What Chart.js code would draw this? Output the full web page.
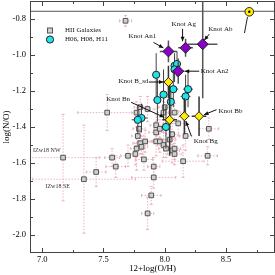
<!DOCTYPE html>
<html>
<head>
<meta charset="utf-8">
<script src="https://cdn.jsdelivr.net/npm/chart.js@4"></script>
<style>
  html, body { margin: 0; padding: 0; background: #fff; }
</style>
</head>
<body>
<canvas id="noChart" width="275" height="275"></canvas>
<script>
const SERIF = '"Liberation Serif", "Times New Roman", serif';

// HII galaxies: 12+log(O/H), log(N/O) and errors
const hiiOH    = [7.68, 7.53, 7.17, 7.34, 7.44, 7.57, 7.60, 7.70, 7.77, 7.78, 7.77, 7.79, 7.80, 7.84, 7.83,
                  7.91, 7.91, 7.89, 7.86, 7.93, 7.96, 7.99, 8.01, 8.04, 8.06, 8.06, 8.08, 8.15, 8.17, 8.35,
                  8.36, 7.93, 7.93, 8.11, 7.99, 7.86, 8.00, 8.08, 7.81, 7.80, 7.76, 8.08, 7.96];
const hiiNO    = [-0.81, -1.32, -1.57, -1.69, -1.65, -1.57, -1.62, -1.56, -1.52, -1.45, -1.32, -1.41, -1.49, -1.48, -1.58,
                  -1.62, -1.68, -1.78, -1.88, -1.48, -1.48, -1.50, -1.52, -1.47, -1.44, -1.53, -1.52, -1.59, -1.45, -1.56,
                  -1.41, -1.39, -1.43, -1.38, -1.32, -1.30, -1.29, -1.32, -1.51, -1.29, -1.55, -1.55, -1.41];
const hiiOHerr = [0.05, 0.24, 0.30, 0.42, 0.08, 0.06, 0.08, 0.06, 0.05, 0.05, 0.04, 0.05, 0.06, 0.05, 0.07,
                  0.05, 0.18, 0.08, 0.05, 0.05, 0.06, 0.05, 0.06, 0.05, 0.05, 0.06, 0.05, 0.17, 0.05, 0.08,
                  0.08, 0.05, 0.06, 0.06, 0.05, 0.06, 0.05, 0.05, 0.05, 0.05, 0.06, 0.06, 0.05];
const hiiNOerr = [0.03, 0.10, 0.24, 0.30, 0.08, 0.05, 0.06, 0.06, 0.12, 0.08, 0.06, 0.07, 0.06, 0.06, 0.06,
                  0.05, 0.06, 0.05, 0.09, 0.08, 0.06, 0.07, 0.05, 0.06, 0.06, 0.07, 0.06, 0.09, 0.08, 0.05,
                  0.06, 0.06, 0.06, 0.07, 0.06, 0.07, 0.06, 0.05, 0.06, 0.06, 0.06, 0.06, 0.05];

// H06, H08, H11 knots
const hOH    = [7.93, 8.08, 8.10, 8.08, 8.07, 8.19, 8.17, 7.99, 7.94, 8.05, 7.81, 7.78, 8.01];
const hNO    = [-1.11, -1.06, -1.05, -1.08, -1.19, -1.19, -1.23, -1.22, -1.25, -1.26, -1.35, -1.36, -1.40];
const hOHerr = [0.03, 0.03, 0.03, 0.03, 0.04, 0.04, 0.04, 0.03, 0.03, 0.03, 0.05, 0.05, 0.04];
const hNOerr = [0.12, 0.07, 0.07, 0.07, 0.10, 0.10, 0.12, 0.14, 0.12, 0.08, 0.08, 0.08, 0.12];

// knots B (yellow)
const bNames = ["Knot B_sd", "Knot Bn", "Knot Bg", "Knot Bb"];
const bOH    = [8.03, 8.04, 8.16, 8.28];
const bNO    = [-1.15, -1.36, -1.34, -1.34];
const bOHerr = [0.03, 0.06, 0.04, 0.06];
const bNOerr = [0.09, 0.20, 0.10, 0.11];

// knots A (purple)
const aNames = ["Knot An1", "Knot Ag", "Knot Ab", "Knot An2"];
const aOH    = [8.03, 8.17, 8.31, 8.11];
const aNO    = [-0.98, -0.96, -0.94, -1.09];
const aOHerr = [0.07, 0.06, 0.12, 0.05];
const aNOerr = [0.06, 0.05, 0.30, 0.07];

// solar value
const sunOH = [8.69];
const sunNO = [-0.76];
const solarNO = -0.757;

const xTicks = [7.0, 7.5, 8.0, 8.5];
const xMinor = [7.25, 7.75, 8.25, 8.75];
const yTicks = [-2.0, -1.8, -1.6, -1.4, -1.2, -1.0, -0.8];
const yMinor = [-1.9, -1.7, -1.5, -1.3, -1.1, -0.9];

// label placement, pixel offsets from the marked point: text left/middle, arrow tail, arrow head
const labelLayout = {
  "Knot An1":  { text: [-40, -15], tail: [-15, -9], head: [-5, -3.5] },
  "Knot Ag":   { text: [-14, -24], tail: [-3, -19], head: [-3, -6.5] },
  "Knot Ab":   { text: [5.5, -15], tail: [6.5, -10], head: [1.5, -4] },
  "Knot An2":  { text: [22.5, -0.5], tail: [21, 0], head: [6.5, 0] },
  "Knot B_sd": { text: [-50, -1], tail: [-19.5, 0], head: [-5, 0] },
  "Knot Bn":   { text: [-63.5, -20.5], tail: [-38.5, -17.5], head: [-5.5, -2.5] },
  "Knot Bg":   { text: [9.5, 24.5], tail: [7, 20], head: [1.5, 5] },
  "Knot Bb":   { text: [19.5, -5.5], tail: [17.5, -6.5], head: [5, -1.5] }
};
const izwNames = ["IZw18 NW", "IZw18 SE"];
const izwIndex = [2, 3];
const izwOffset = [[-30, -7.5], [-38.5, 7]];

const pts = (xs, ys) => xs.map((v, i) => ({ x: v, y: ys[i] }));

const errorSets = {
  0: { xs: aOH, ys: aNO, xe: aOHerr, ye: aNOerr, color: "#555", width: 1.5 },
  1: { xs: bOH, ys: bNO, xe: bOHerr, ye: bNOerr, color: "#333", width: 1.5 },
  2: { xs: hOH, ys: hNO, xe: hOHerr, ye: hNOerr, color: "#444", width: 1 },
  4: { xs: hiiOH, ys: hiiNO, xe: hiiOHerr, ye: hiiNOerr, color: "#e9b3bd", width: 1, dash: [1.5, 1.5], cap: 1.5 }
};

function drawErrors(chart, e) {
  const { ctx, chartArea: a, scales: { x, y } } = chart;
  ctx.save();
  ctx.beginPath();
  ctx.rect(a.left, a.top, a.right - a.left, a.bottom - a.top);
  ctx.clip();
  ctx.strokeStyle = e.color;
  ctx.lineWidth = e.width;
  e.xs.forEach((v, i) => {
    const px = x.getPixelForValue(v), py = y.getPixelForValue(e.ys[i]);
    const x0 = x.getPixelForValue(v - e.xe[i]), x1 = x.getPixelForValue(v + e.xe[i]);
    const y0 = y.getPixelForValue(e.ys[i] - e.ye[i]), y1 = y.getPixelForValue(e.ys[i] + e.ye[i]);
    ctx.setLineDash(e.dash || []);
    ctx.beginPath();
    ctx.moveTo(x0, py); ctx.lineTo(x1, py);
    ctx.moveTo(px, y0); ctx.lineTo(px, y1);
    ctx.stroke();
    if (e.cap) {
      ctx.setLineDash([]);
      ctx.beginPath();
      ctx.moveTo(x0, py - e.cap); ctx.lineTo(x0, py + e.cap);
      ctx.moveTo(x1, py - e.cap); ctx.lineTo(x1, py + e.cap);
      ctx.moveTo(px - e.cap, y0); ctx.lineTo(px + e.cap, y0);
      ctx.moveTo(px - e.cap, y1); ctx.lineTo(px + e.cap, y1);
      ctx.stroke();
    }
  });
  ctx.restore();
}

function arrow(ctx, x0, y0, x1, y1) {
  ctx.beginPath();
  ctx.moveTo(x0, y0);
  ctx.lineTo(x1, y1);
  ctx.stroke();
  const ang = Math.atan2(y1 - y0, x1 - x0), len = 4.5, w = 2;
  ctx.beginPath();
  ctx.moveTo(x1, y1);
  ctx.lineTo(x1 - len * Math.cos(ang) + w * Math.sin(ang), y1 - len * Math.sin(ang) - w * Math.cos(ang));
  ctx.lineTo(x1 - len * Math.cos(ang) - w * Math.sin(ang), y1 - len * Math.sin(ang) + w * Math.cos(ang));
  ctx.closePath();
  ctx.fill();
}

// keep the plot frame out to the canvas edges (no label overhang padding)
const noOverhang = s => { s.paddingTop = 0; s.paddingBottom = 0; s.paddingLeft = 0; s.paddingRight = 0; };

const extras = {
  id: "extras",
  beforeDatasetsDraw(chart) {
    const { ctx, chartArea: a, scales: { y } } = chart;
    const py = y.getPixelForValue(solarNO);
    ctx.save();
    ctx.strokeStyle = "#555";
    ctx.lineWidth = 1;
    ctx.beginPath();
    ctx.moveTo(a.left, py); ctx.lineTo(a.right, py);
    ctx.stroke();
    ctx.restore();
  },
  beforeDatasetDraw(chart, args) {
    const e = errorSets[args.index];
    if (e) drawErrors(chart, e);
  },
  afterDatasetsDraw(chart) {
    const { ctx, scales: { x, y } } = chart;
    ctx.save();
    // solar dot and its line
    const sx = x.getPixelForValue(sunOH[0]), sy = y.getPixelForValue(sunNO[0]);
    ctx.fillStyle = "#000";
    ctx.beginPath(); ctx.arc(sx, sy, 1.2, 0, Math.PI * 2); ctx.fill();
    ctx.strokeStyle = "#222"; ctx.lineWidth = 1;
    ctx.beginPath(); ctx.moveTo(sx - 1.8, sy + 5.2); ctx.lineTo(sx - 4.8, sy + 21.2); ctx.stroke();

    // knot labels with arrows
    ctx.font = "7px " + SERIF;
    ctx.textBaseline = "middle";
    ctx.textAlign = "left";
    ctx.lineWidth = 1;
    ctx.strokeStyle = "#111";
    const knots = [[aNames, aOH, aNO], [bNames, bOH, bNO]];
    knots.forEach(([names, xs, ys]) => {
      names.forEach((n, i) => {
        const L = labelLayout[n];
        const px = x.getPixelForValue(xs[i]), py = y.getPixelForValue(ys[i]);
        ctx.fillStyle = "#111";
        ctx.fillText(n, px + L.text[0], py + L.text[1]);
        arrow(ctx, px + L.tail[0], py + L.tail[1], px + L.head[0], py + L.head[1]);
      });
    });
    ctx.font = "6px " + SERIF;
    ctx.fillStyle = "#333";
    izwNames.forEach((n, k) => {
      const i = izwIndex[k];
      const px = x.getPixelForValue(hiiOH[i]), py = y.getPixelForValue(hiiNO[i]);
      ctx.fillText(n, px + izwOffset[k][0], py + izwOffset[k][1]);
    });

    // legend
    ctx.font = "7px " + SERIF;
    ctx.fillStyle = "#111";
    ctx.fillText("HII Galaxies", 65, 30.5);
    ctx.fillText("H06, H08, H11", 65, 39.5);
    ctx.fillStyle = "#d0d0d0"; ctx.strokeStyle = "#555";
    ctx.fillRect(47.5, 28, 5, 5); ctx.strokeRect(47.5, 28, 5, 5);
    ctx.fillStyle = "#1fe3ea"; ctx.strokeStyle = "#222";
    ctx.beginPath(); ctx.arc(50, 39.5, 3.6, 0, Math.PI * 2); ctx.fill(); ctx.stroke();
    ctx.restore();
  },
  afterDraw(chart) {
    const { ctx, chartArea: a, scales: { x, y } } = chart;
    ctx.save();
    ctx.strokeStyle = "#444";
    ctx.lineWidth = 1;
    ctx.strokeRect(a.left + 0.5, a.top + 0.5, a.right - a.left - 1, a.bottom - a.top - 1);
    ctx.beginPath();
    const xt = (vals, len) => vals.forEach(v => {
      const px = Math.round(x.getPixelForValue(v)) + 0.5;
      ctx.moveTo(px, a.bottom); ctx.lineTo(px, a.bottom - len);
      ctx.moveTo(px, a.top); ctx.lineTo(px, a.top + len);
    });
    const yt = (vals, len) => vals.forEach(v => {
      const py = Math.round(y.getPixelForValue(v)) + 0.5;
      ctx.moveTo(a.left, py); ctx.lineTo(a.left + len, py);
      ctx.moveTo(a.right, py); ctx.lineTo(a.right - len, py);
    });
    xt(xTicks, 5); xt(xMinor, 3);
    yt(yTicks, 5); yt(yMinor, 3);
    ctx.stroke();
    ctx.restore();
  }
};

new Chart(document.getElementById("noChart").getContext("2d"), {
  type: "scatter",
  data: {
    datasets: [
      { label: "A knots", data: pts(aOH, aNO), pointStyle: "rectRot", pointRadius: 5.5,
        backgroundColor: "#8800c8", borderColor: "#222", borderWidth: 1, order: 1 },
      { label: "B knots", data: pts(bOH, bNO), pointStyle: "rectRot", pointRadius: 4.5,
        backgroundColor: "#ffee00", borderColor: "#222", borderWidth: 1, order: 2 },
      { label: "H06, H08, H11", data: pts(hOH, hNO), pointStyle: "circle", pointRadius: 3.6,
        backgroundColor: "#1fe3ea", borderColor: "#222", borderWidth: 1, order: 3 },
      { label: "Sun", data: pts(sunOH, sunNO), pointStyle: "circle", pointRadius: 4.3,
        backgroundColor: "#ffee00", borderColor: "#222", borderWidth: 1, order: 0 },
      { label: "HII Galaxies", data: pts(hiiOH, hiiNO), pointStyle: "rect", pointRadius: 3.3,
        backgroundColor: "#d0d0d0", borderColor: "#555", borderWidth: 1, order: 4 }
    ]
  },
  options: {
    responsive: false,
    animation: false,
    layout: { autoPadding: false, padding: { top: 1, right: 0, left: 0, bottom: 0 } },
    plugins: { legend: { display: false }, tooltip: { enabled: false } },
    scales: {
      x: {
        type: "linear", min: 6.9, max: 8.9,
        afterBuildTicks: s => { s.ticks = xTicks.map(v => ({ value: v })); },
        afterFit: s => { s.height = 22; noOverhang(s); },
        grid: { display: false, drawTicks: false },
        border: { display: false },
        ticks: { padding: 2, color: "#000", font: { family: SERIF, size: 8.5 },
                 maxRotation: 0, autoSkip: false, callback: v => v.toFixed(1) },
        title: { display: true, text: "12+log(O/H)", color: "#000",
                 font: { family: SERIF, size: 9 }, padding: { top: 0, bottom: 1 } }
      },
      y: {
        type: "linear", min: -2.1, max: -0.7,
        afterBuildTicks: s => { s.ticks = yTicks.map(v => ({ value: v })); },
        afterFit: s => { s.width = 30; noOverhang(s); },
        grid: { display: false, drawTicks: false },
        border: { display: false },
        ticks: { padding: 4, color: "#000", font: { family: SERIF, size: 8.5 },
                 autoSkip: false, callback: v => v.toFixed(1) },
        title: { display: true, text: "log(N/O)", color: "#000",
                 font: { family: SERIF, size: 9 }, padding: { top: 1, bottom: 0 } }
      }
    }
  },
  plugins: [extras]
});
</script>
</body>
</html>
